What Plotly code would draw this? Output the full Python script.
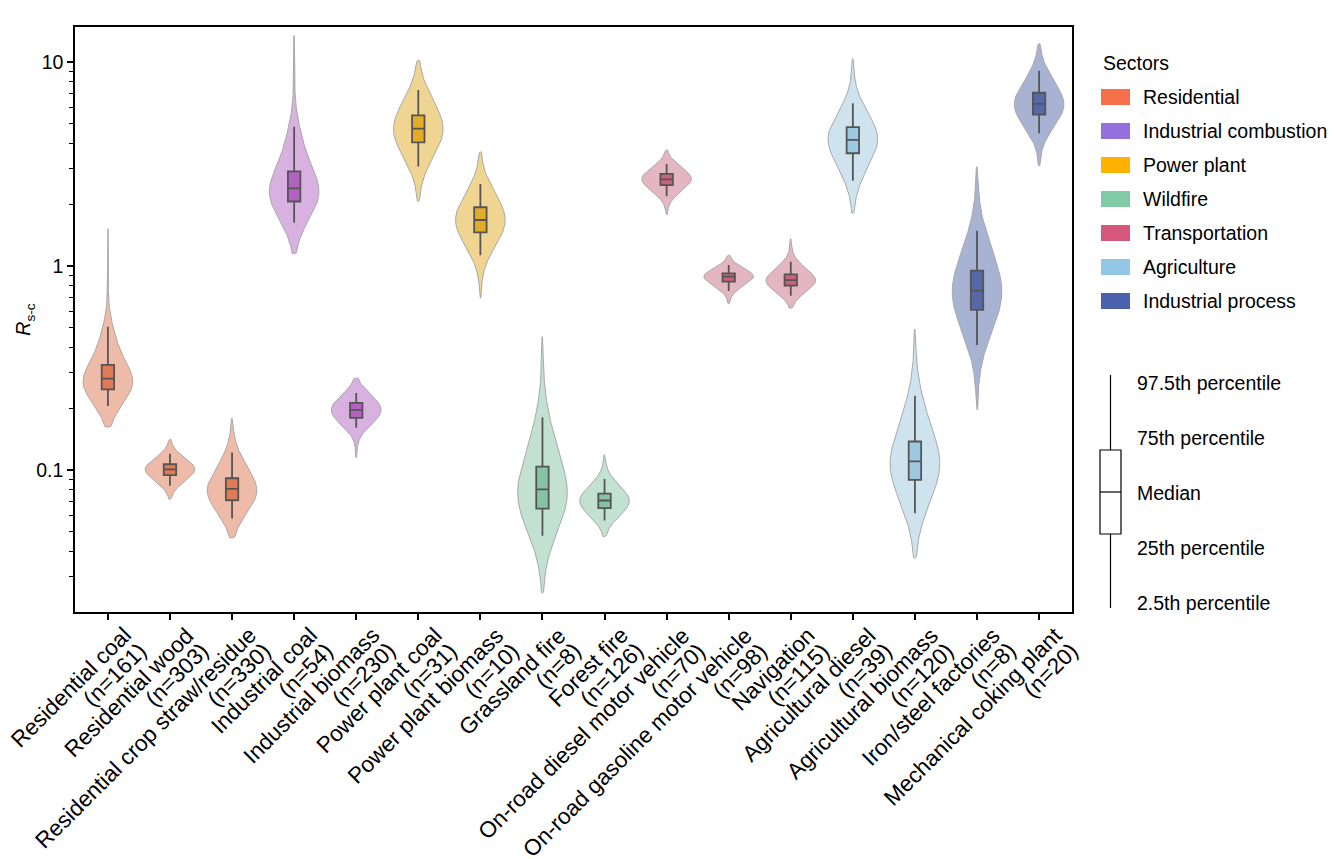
import math

import numpy as np
import plotly.graph_objects as go

# ---- data ----
labels = [
    "Residential coal", "Residential wood", "Residential crop straw/residue",
    "Industrial coal", "Industrial biomass", "Power plant coal",
    "Power plant biomass", "Grassland fire", "Forest fire",
    "On-road diesel motor vehicle", "On-road gasoline motor vehicle",
    "Navigation", "Agricultural diesel", "Agricultural biomass",
    "Iron/steel factories", "Mechanical coking plant",
]
n_samples = [161, 303, 330, 54, 230, 31, 10, 8, 126, 70, 98, 115, 39, 120, 8, 20]
sector_of = [0, 0, 0, 1, 1, 2, 2, 3, 3, 4, 4, 4, 5, 5, 6, 6]

sectors = ["Residential", "Industrial combustion", "Power plant", "Wildfire",
           "Transportation", "Agriculture", "Industrial process"]

# percentiles of R_s-c per source type
tail_lo = [0.162, 0.0718, 0.0464, 1.146, 0.1146, 2.07, 0.695, 0.0249, 0.0471,
           1.78, 0.651, 0.621, 1.81, 0.0369, 0.197, 3.09]
p025 = [0.206, 0.0835, 0.0577, 1.63, 0.161, 3.07, 1.13, 0.0475, 0.0565,
        2.20, 0.754, 0.714, 2.62, 0.0613, 0.41, 4.47]
q1 = [0.248, 0.0942, 0.0710, 2.07, 0.180, 4.04, 1.46, 0.0646, 0.0649,
      2.49, 0.838, 0.80, 3.57, 0.0893, 0.609, 5.52]
median = [0.280, 0.1007, 0.0807, 2.40, 0.197, 4.71, 1.68, 0.0803, 0.0708,
          2.66, 0.887, 0.853, 4.15, 0.110, 0.757, 6.23]
q3 = [0.327, 0.1066, 0.0910, 2.91, 0.213, 5.48, 1.94, 0.1038, 0.0765,
      2.83, 0.920, 0.910, 4.80, 0.1378, 0.948, 7.07]
p975 = [0.504, 0.120, 0.1216, 4.82, 0.238, 7.29, 2.52, 0.181, 0.0903,
        3.16, 1.01, 1.05, 6.27, 0.2307, 1.49, 9.06]
tail_hi = [1.52, 0.141, 0.179, 13.5, 0.282, 10.2, 3.63, 0.450, 0.1186,
           3.70, 1.13, 1.36, 10.4, 0.49, 3.07, 12.3]

y_tickvals = [0.1, 1, 10]
y_ticktext = ["0.1", "1", "10"]
y_minor = [k * 10.0 ** e for e in (-2, -1, 0) for k in range(2, 10)]

key_labels = ["97.5th percentile", "75th percentile", "Median",
              "25th percentile", "2.5th percentile"]

# ---- styles ----
legend_colors = ["#F4704A", "#9370DB", "#FFB300", "#80CBA5", "#D5577B", "#93C7E6", "#4A62AE"]
violin_colors = ["#EFBBA9", "#D8B1E0", "#F0D492", "#C3E1D1", "#E4B6C4", "#CFE3EE", "#A8B3D3"]
box_colors = ["#E07A57", "#B263C2", "#E3AC28", "#84C4A3", "#CB6083", "#9DC9E0", "#5569A9"]
FONT = "Liberation Sans, Arial, sans-serif"
FS = 19.5
XFS = 22.5

# the page body adds an 8px margin, so the figure is drawn 8px smaller
PAGE = 8
W, H = 1336 - PAGE, 859 - PAGE
L, R, T, B = 75, 1072, 27, 612   # plot frame in reference pixels
X_RANGE = [-0.53, 15.53]
Y_RANGE = [math.log10(0.0201), math.log10(14.85)]


def px_x(px):
    return (px - L) / (R - L)


def px_y(py):
    return (B - py) / (B - T)


def violin_outline(i, half_width=0.4, n=400):
    """Smoothed density in log space built from the read percentiles."""
    knots = np.log10([tail_lo[i], p025[i], q1[i], median[i], q3[i], p975[i], tail_hi[i]])
    probs = [0.025, 0.225, 0.25, 0.25, 0.225, 0.025]
    h = 0.65 * (knots[4] - knots[2])
    grid = np.linspace(knots[0], knots[-1], n)
    dens = np.zeros(n)
    for k, p in enumerate(probs):
        a, b = knots[k], knots[k + 1]
        c = p / (b - a)
        dens += c * 0.5 * np.array([math.erf((g - a) / (h * math.sqrt(2)))
                                    - math.erf((g - b) / (h * math.sqrt(2))) for g in grid])
    dens = dens / dens.max() * half_width
    dens[0] = dens[-1] = 0
    return grid, dens


fig = go.Figure()

for i in range(len(labels)):
    s = sector_of[i]
    grid, dens = violin_outline(i)
    xs = np.concatenate([i + dens, (i - dens)[::-1]])
    ys = np.concatenate([10 ** grid, (10 ** grid)[::-1]])
    fig.add_trace(go.Scatter(
        x=xs, y=ys, mode="lines", fill="toself",
        fillcolor=violin_colors[s],
        line=dict(color="#A8A8A8", width=1),
        hoverinfo="skip", showlegend=False,
    ))

# boxes go on an overlaid subplot so they sit above the violin fills
for i in range(len(labels)):
    s = sector_of[i]
    fig.add_trace(go.Box(
        x=[i], q1=[q1[i]], median=[median[i]], q3=[q3[i]],
        lowerfence=[p025[i]], upperfence=[p975[i]],
        orientation="v", width=0.2, whiskerwidth=0,
        fillcolor=box_colors[s],
        line=dict(color="#555555", width=1.8),
        showlegend=False, boxpoints=False, hoverinfo="skip",
        xaxis="x2", yaxis="y2",
    ))

shapes = []
annotations = []

# rotated category labels: top-right corner of each line hangs off the tick
c45 = math.cos(math.radians(45))
line_h = 27      # height of one label line box
line_gap = 22    # distance between the two lines
for i, (lab, n) in enumerate(zip(labels, n_samples)):
    for k, txt in enumerate([lab, f"(n={n})"]):
        off = k * line_gap * c45
        annotations.append(dict(
            x=i, xref="x", y=0, yref="paper",
            xshift=line_h * c45 + 12 + off, yshift=-(8 + off),
            text=txt, textangle=-45, showarrow=False,
            xanchor="right", yanchor="top",
            font=dict(size=XFS, color="black", family=FONT),
        ))

# sector legend
annotations.append(dict(x=px_x(1101), y=px_y(63), xref="paper", yref="paper",
                        text="Sectors", showarrow=False, xanchor="left", yanchor="middle",
                        font=dict(size=FS, color="black", family=FONT)))
for k, name in enumerate(sectors):
    cy = 97 + 34 * k
    shapes.append(dict(type="rect", xref="paper", yref="paper",
                       x0=px_x(1101), x1=px_x(1130), y0=px_y(cy + 8), y1=px_y(cy - 8),
                       fillcolor=legend_colors[k], line=dict(width=0)))
    annotations.append(dict(x=px_x(1141), y=px_y(cy), xref="paper", yref="paper",
                            text=name, showarrow=False, xanchor="left", yanchor="middle",
                            font=dict(size=FS, color="black", family=FONT)))

# box key
shapes.append(dict(type="line", xref="paper", yref="paper",
                   x0=px_x(1110.5), x1=px_x(1110.5), y0=px_y(375), y1=px_y(608),
                   line=dict(color="black", width=1.2)))
shapes.append(dict(type="rect", xref="paper", yref="paper",
                   x0=px_x(1100), x1=px_x(1121), y0=px_y(534), y1=px_y(450),
                   fillcolor="white", line=dict(color="black", width=1.2)))
shapes.append(dict(type="line", xref="paper", yref="paper",
                   x0=px_x(1100), x1=px_x(1121), y0=px_y(492), y1=px_y(492),
                   line=dict(color="black", width=1.2)))
for k, txt in enumerate(key_labels):
    annotations.append(dict(x=px_x(1135), y=px_y(383 + 55 * k), xref="paper", yref="paper",
                            text=txt, showarrow=False, xanchor="left", yanchor="middle",
                            font=dict(size=FS, color="black", family=FONT)))

fig.update_layout(
    width=W, height=H,
    margin=dict(l=L - PAGE, r=W - (R - PAGE), t=T - PAGE, b=H - (B - PAGE)),
    paper_bgcolor="white", plot_bgcolor="white",
    font=dict(family=FONT, size=FS, color="black"),
    showlegend=False,
    shapes=shapes, annotations=annotations,
    xaxis=dict(
        range=X_RANGE, tickmode="array",
        tickvals=list(range(len(labels))), showticklabels=False,
        ticks="outside", ticklen=6, tickwidth=1.5, tickcolor="black",
        showline=True, linecolor="black", linewidth=1.5, mirror=True,
        showgrid=False, zeroline=False, automargin=False,
    ),
    yaxis=dict(
        type="log", range=Y_RANGE,
        tickmode="array", tickvals=y_tickvals, ticktext=y_ticktext,
        ticks="outside", ticklen=6, tickwidth=1.5, tickcolor="black",
        minor=dict(tickmode="array", tickvals=y_minor, ticks="outside",
                   ticklen=4, tickwidth=1, tickcolor="black", showgrid=False),
        showline=True, linecolor="black", linewidth=1.5, mirror=True,
        showgrid=False, zeroline=False, automargin=False,
        tickfont=dict(size=FS, family=FONT, color="black"),
        title=dict(text="<i>R</i><sub>s-c</sub>", standoff=0,
                   font=dict(size=FS, family=FONT, color="black")),
    ),
    xaxis2=dict(range=X_RANGE, overlaying="x", visible=False),
    yaxis2=dict(type="log", range=Y_RANGE, overlaying="y", visible=False),
)

fig.write_html("out.html")
